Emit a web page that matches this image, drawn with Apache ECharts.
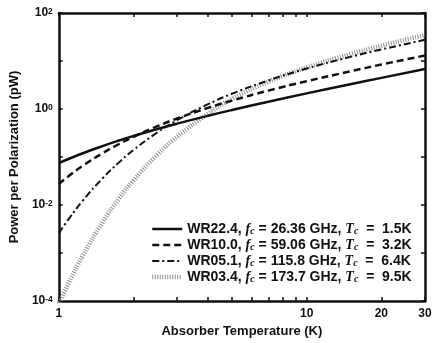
<!DOCTYPE html>
<html><head><meta charset="utf-8">
<script src="https://cdn.jsdelivr.net/npm/echarts@6/dist/echarts.min.js"></script>
<style>html,body{margin:0;padding:0;background:#fff}#c{width:436px;height:343px}</style>
</head><body><div id="c"></div>
<script>
// Absorber temperature (K)
const temperatures = [1, 1.1, 1.25, 1.5, 1.75, 2, 2.5, 3, 4, 5, 7, 10, 15, 20, 30];
// Power per polarization (pW)
const powerWR224 = [0.0746, 0.0921, 0.120, 0.169, 0.221, 0.274, 0.384, 0.496, 0.724, 0.955, 1.42, 2.12, 3.29, 4.46, 6.81];
const powerWR100 = [0.0274, 0.0407, 0.0658, 0.120, 0.187, 0.264, 0.440, 0.635, 1.06, 1.50, 2.42, 3.80, 6.10, 8.45, 13.0];
const powerWR051 = [0.00259, 0.00524, 0.0124, 0.0358, 0.0775, 0.140, 0.326, 0.585, 1.26, 2.08, 3.93, 6.96, 12.2, 17.4, 27.6];
const powerWR034 = [0.0000847, 0.000246, 0.000885, 0.00433, 0.0137, 0.0327, 0.113, 0.262, 0.80, 1.62, 3.70, 7.30, 13.9, 20.8, 34.7];

const seriesNames = ['WR22.4', 'WR10.0', 'WR05.1', 'WR03.4'];
const cutoffFreqs = ['26.36', '59.06', '115.8', '173.7'];
const cutoffTemps = ['1.5', '3.2', '6.4', '9.5'];
const xTickValues = [1, 2, 3, 4, 5, 6, 7, 8, 9, 10, 20, 30];
const xLabelValues = [1, 10, 20, 30];

const allPowers = [powerWR224, powerWR100, powerWR051, powerWR034];
const seriesColors = ['#111', '#111', '#111', '#8e8e8e'];
const lineStyles = [
  {width: 2.5, type: 'solid'},
  {width: 2.5, type: [7, 4]},
  {width: 2, type: [7, 3, 2, 3]},
  {width: 4.5, type: [1, 1.5], cap: 'butt'}
];

const chart = echarts.init(document.getElementById('c'), null, {renderer: 'canvas'});
const FONT = 'Liberation Sans';

function xAxisCfg(pos, showLabel) {
  return {
    type: 'log', logBase: 10, min: 1, max: 30, position: pos,
    axisLine: {show: true, onZero: false, lineStyle: {color: '#111', width: 2.5}},
    axisTick: {show: true, inside: true, length: 4, customValues: xTickValues, lineStyle: {color: '#111', width: 1.5}},
    axisLabel: {show: showLabel, customValues: xLabelValues, margin: 7, color: '#111',
      fontFamily: FONT, fontWeight: 'bold', fontSize: 12},
    splitLine: {show: false},
    name: showLabel ? 'Absorber Temperature (K)' : '',
    nameLocation: 'middle', nameGap: 22,
    nameTextStyle: {fontFamily: FONT, fontWeight: 'bold', fontSize: 13, color: '#111'}
  };
}
function yAxisCfg(pos, showLabel) {
  return {
    type: 'log', logBase: 10, min: 1e-4, max: 100, interval: 1, position: pos,
    axisLine: {show: true, onZero: false, lineStyle: {color: '#111', width: 2.5}},
    axisTick: {show: true, inside: true, length: 4, lineStyle: {color: '#111', width: 1.5}},
    axisLabel: {show: showLabel, margin: 6, color: '#111',
      formatter: function (v) {
        const e = Math.round(Math.log10(v));
        if (e % 2 !== 0) return '';
        return '{b|10}{s|' + e + '}';
      },
      rich: {
        b: {fontFamily: FONT, fontWeight: 'bold', fontSize: 12, color: '#111'},
        s: {fontFamily: FONT, fontWeight: 'bold', fontSize: 8.5, color: '#111', verticalAlign: 'top'}
      }
    },
    splitLine: {show: false},
    name: showLabel ? 'Power per Polarization (pW)' : '',
    nameLocation: 'middle', nameGap: 37,
    nameTextStyle: {fontFamily: FONT, fontWeight: 'bold', fontSize: 13, color: '#111'}
  };
}

const option = {
  animation: false,
  backgroundColor: '#fff',
  grid: {left: 56, right: 11, top: 13, bottom: 41, containLabel: false},
  xAxis: [xAxisCfg('bottom', true), xAxisCfg('top', false)],
  yAxis: [yAxisCfg('left', true), yAxisCfg('right', false)],
  legend: {
    orient: 'vertical', left: 150, top: 222, padding: 0, itemWidth: 30, itemHeight: 12, itemGap: 2,
    itemStyle: {opacity: 0},
    data: seriesNames.map((nm, k) => ({name: nm, lineStyle: {width: lineStyles[k].width}})),
    formatter: function (name) {
      const i = seriesNames.indexOf(name);
      return '{n|' + name + ', }{i|f}{c|c}{n| = ' + cutoffFreqs[i] + ' GHz, }{i|T}{c|c}{n|  =  ' + cutoffTemps[i] + 'K}';
    },
    textStyle: {
      fontFamily: FONT, fontWeight: 'bold', fontSize: 14, color: '#111', lineHeight: 14,
      rich: {
        n: {fontFamily: FONT, fontWeight: 'bold', fontSize: 14, color: '#111'},
        i: {fontFamily: 'Liberation Serif', fontStyle: 'italic', fontSize: 14, color: '#111'},
        c: {fontFamily: 'Liberation Serif', fontStyle: 'italic', fontSize: 10, color: '#111', verticalAlign: 'bottom'}
      }
    }
  },
  series: seriesNames.map((nm, k) => ({
    name: nm, type: 'line', xAxisIndex: 0, yAxisIndex: 0,
    data: temperatures.map((t, j) => [t, allPowers[k][j]]),
    showSymbol: false, symbol: 'none', smooth: true,
    color: seriesColors[k],
    lineStyle: Object.assign({color: seriesColors[k]}, lineStyles[k]), z: 10 - k
  }))
};
chart.setOption(option);
</script></body></html>
